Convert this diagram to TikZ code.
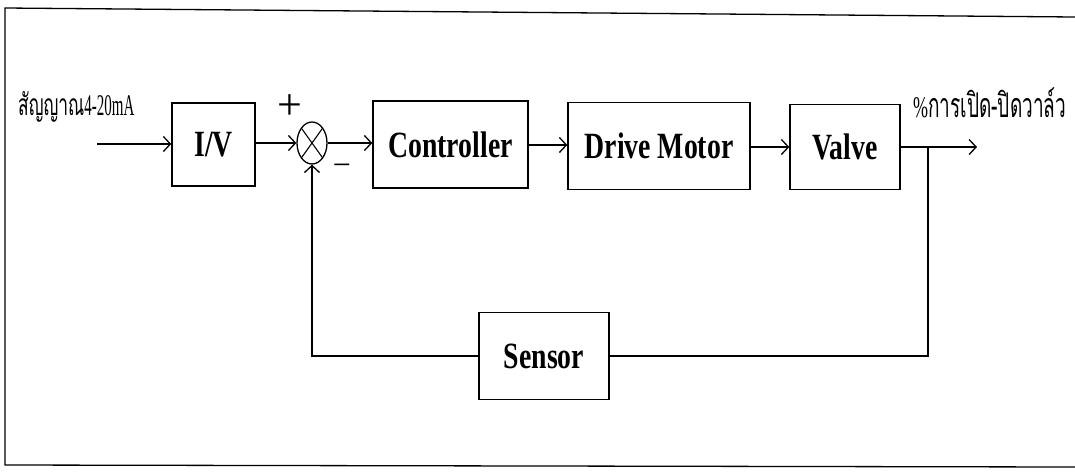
\documentclass[tikz,border=0pt]{standalone}
\usepackage{fontspec}
\usepackage{graphicx}
\setmainfont{Liberation Serif}
\newfontfamily\thaifont[Script=Thai]{Loma}
\newfontfamily\boxfont[FakeStretch=0.75]{Liberation Serif Bold}
\usetikzlibrary{arrows.meta,shapes.geometric}
\tikzset{
  blockbox/.style={draw, line width=1.4pt, inner sep=0pt, font=\fontsize{37}{37}\boxfont},
  flow/.style={line width=1.4pt},
  arr/.style={flow, -{Straight Barb[length=7pt,width=15pt,line width=1.3pt]}},
  sumnode/.style={draw, ellipse, line width=1.3pt, minimum width=30pt, minimum height=42pt, inner sep=0pt,
    path picture={\draw[line width=1.1pt] (path picture bounding box.north west) -- (path picture bounding box.south east)
      (path picture bounding box.north east) -- (path picture bounding box.south west);}},
  sign/.style={inner sep=0pt},
}
\begin{document}
\begin{tikzpicture}[x=1pt,y=-1pt]
\useasboundingbox (0,0) rectangle (1075,472);
% frame
\draw[line width=1.3pt] (1075,17) -- (5,8) -- (5,465) -- (1075,467);
% blocks
\node[blockbox, minimum width=83pt, minimum height=83pt] (iv) at (213.5,144.5) {I/V};
\node[sumnode] (sum) at (312,143) {};
\node[blockbox, minimum width=155pt, minimum height=87pt] (ctrl) at (450.5,144.5) {Controller};
\node[blockbox, minimum width=182pt, minimum height=87pt] (dm) at (659,146) {Drive Motor};
\node[blockbox, minimum width=110pt, minimum height=85pt] (valve) at (845,147) {Valve};
\node[blockbox, minimum width=130pt, minimum height=87pt] (sensor) at (544,356) {Sensor};
% labels
\node[inner sep=0pt, anchor=base west] (inlbl) at (18,115) {\scalebox{0.58}[1]{\fontsize{30}{30}\thaifont สัญญาณ}\scalebox{0.5}[1]{\fontsize{30}{30}\selectfont 4-20mA}};
\node[inner sep=0pt, anchor=base west] (outlbl) at (913,117) {\scalebox{0.6}[1]{\fontsize{30}{30}\selectfont\%}\scalebox{0.56}[1]{\fontsize{34}{34}\thaifont การเปิด-ปิดวาล์ว}};
\node[sign, font=\fontsize{44}{44}\selectfont] (plus) at (290,107) {+};
\node[sign, font=\fontsize{32}{32}\selectfont] (minus) at (342,170) {−};
% coordinates
\coordinate (in) at (97,144);
\coordinate (out) at (977,147);
\coordinate (br) at (928,147);
\coordinate (fbr) at (928,356);
\coordinate (fbl) at (312,356);
% connectors
\draw[arr] (in) -- (iv.west |- in);
\draw[arr] (iv.east |- sum.west) -- (sum.west);
\draw[arr] (sum.east) -- (ctrl.west |- sum.east);
\draw[arr] (ctrl.east |- 0,145) -- (dm.west |- 0,145);
\draw[arr] (dm.east |- 0,147) -- (valve.west |- 0,147);
\draw[arr] (valve.east |- out) -- (out);
\draw[flow] (br) -- (fbr) -- (sensor.east |- fbr);
\draw[arr] (sensor.west |- fbl) -- (fbl) -- (sum.south);
\end{tikzpicture}
\end{document}
